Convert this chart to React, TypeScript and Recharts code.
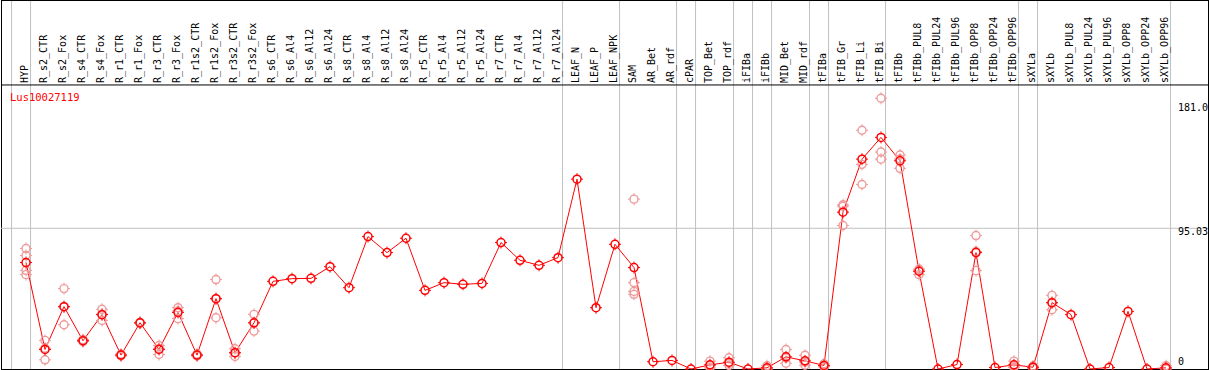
import React from 'react';
import { ComposedChart, Line, Scatter, XAxis, YAxis, ReferenceLine, ReferenceArea } from 'recharts';

const categories = [
  'HYP', 'R_s2_CTR', 'R_s2_Fox', 'R_s4_CTR', 'R_s4_Fox', 'R_r1_CTR', 'R_r1_Fox', 'R_r3_CTR', 'R_r3_Fox',
  'R_r1s2_CTR', 'R_r1s2_Fox', 'R_r3s2_CTR', 'R_r3s2_Fox', 'R_s6_CTR', 'R_s6_Al4', 'R_s6_Al12', 'R_s6_Al24',
  'R_s8_CTR', 'R_s8_Al4', 'R_s8_Al12', 'R_s8_Al24', 'R_r5_CTR', 'R_r5_Al4', 'R_r5_Al12', 'R_r5_Al24',
  'R_r7_CTR', 'R_r7_Al4', 'R_r7_Al12', 'R_r7_Al24', 'LEAF_N', 'LEAF_P', 'LEAF_NPK', 'SAM', 'AR_Bet', 'AR_rdf',
  'cPAR', 'TOP_Bet', 'TOP_rdf', 'iFIBa', 'iFIBb', 'MID_Bet', 'MID_rdf', 'tFIBa', 'tFIB_Gr', 'tFIB_Li', 'tFIB_Bi',
  'tFIBb', 'tFIBb_PUL8', 'tFIBb_PUL24', 'tFIBb_PUL96', 'tFIBb_OPP8', 'tFIBb_OPP24', 'tFIBb_OPP96', 'sXYLa',
  'sXYLb', 'sXYLb_PUL8', 'sXYLb_PUL24', 'sXYLb_PUL96', 'sXYLb_OPP8', 'sXYLb_OPP24', 'sXYLb_OPP96',
];

const meanValues = [
  71.9, 13.2, 42.1, 19.1, 36.7, 9.4, 31.2, 13.2, 38.2,
  9.4, 47.5, 11.0, 31.2, 59.2, 61.0, 61.2, 69.1,
  54.9, 89.4, 78.6, 88.3, 53.1, 58.3, 57.2, 57.8,
  85.4, 73.4, 70.0, 75.2, 128.2, 41.4, 84.2, 68.5, 4.9, 5.8,
  0, 2.8, 4.6, 0, 0.8, 8.2, 5.5, 2.4, 105.9, 141.7, 156.4,
  140.6, 66.0, 0, 3.0, 78.6, 1.0, 2.8, 1.2,
  44.8, 36.7, 0, 1.0, 38.9, 0, 0.8,
];

const N = null;
const rep1 = [
  81.4, 19.3, 54.3, 19.8, 40.3, 10.0, 31.5, 15.9, 41.4,
  10.0, 60.4, 13.7, 36.9, N, N, N, N,
  N, N, N, N, N, N, N, N,
  N, N, N, N, N, N, N, 114.7, N, N,
  N, 5.3, 7.6, N, 2.2, 13.2, 9.3, 3.5, 109.9, 161.2, 182.8,
  144.5, 63.7, N, N, 90.1, N, 5.3, 2.0,
  49.7, N, N, N, N, N, 2.2,
];
const rep2 = [
  76.6, 6.2, 29.9, 18.5, 32.8, 8.8, 30.9, 9.8, 34.0,
  8.8, 34.6, 8.5, 25.6, N, N, N, N,
  N, N, N, N, N, N, N, N,
  N, N, N, N, N, N, N, 58.3, N, N,
  N, 0.8, 2.4, N, 0.0, 3.9, 2.6, 1.5, 96.9, 138.2, 146.5,
  135.5, 67.5, N, N, 66.4, N, 1.0, 0.5,
  40.0, N, N, N, N, N, 0.0,
];
const rep3 = [
  66.6, 14.0, 42.0, 19.0, 37.0, 9.4, 31.2, 13.9, 39.2,
  9.4, 47.5, 10.8, 31.1, N, N, N, N,
  N, N, N, N, N, N, N, N,
  N, N, N, N, N, N, N, 52.4, N, N,
  N, 2.3, 3.8, N, 0.2, 7.5, 4.6, 2.2, 110.9, 124.6, 141.7,
  141.8, 66.8, N, N, 79.3, N, 2.1, 1.1,
  44.7, N, N, N, N, N, 0.2,
];
const rep4 = [
  63.7, N, N, N, N, N, N, N, N,
  N, N, N, N, N, N, N, N,
  N, N, N, N, N, N, N, N,
  N, N, N, N, N, N, N, 50.4, N, N,
  N, N, N, N, N, N, N, N, N, N, N,
  N, N, N, N, N, N, N, N,
  N, N, N, N, N, N, N,
];

const yTicks = [0, 95.03, 181.0];
const yTickLabels = ['0', '95.03', '181.0'];
const groupEnds = [-1, 0, 28, 31, 34, 35, 37, 38, 39, 41, 42, 45, 52, 53, 60];
const geneName = 'Lus10027119';

const X_MIN = -1.3158;
const X_MAX = 62.2105;
const Y_MAX = 248.5;

const meanData = categories.map((c, i) => ({ x: i, y: meanValues[i] }));
const repData: { x: number; y: number }[] = [];
[rep1, rep2, rep3, rep4].forEach((arr) => {
  arr.forEach((v, i) => {
    if (v !== null) repData.push({ x: i, y: v as number });
  });
});

const FONT = '"DejaVu Sans Mono", monospace';

const Marker = ({ cx, cy, color, w }: { cx: number; cy: number; color: string; w: number }) => {
  if (cx == null || cy == null) return null;
  return (
    <g>
      <circle cx={cx} cy={cy} r={4} fill="none" stroke={color} strokeWidth={w} />
      <line x1={cx} y1={cy - 6} x2={cx} y2={cy - 4} stroke={color} strokeWidth={1} />
      <line x1={cx} y1={cy + 4} x2={cx} y2={cy + 6} stroke={color} strokeWidth={1} />
      <line x1={cx - 6} y1={cy} x2={cx - 4} y2={cy} stroke={color} strokeWidth={1} />
      <line x1={cx + 4} y1={cy} x2={cx + 6} y2={cy} stroke={color} strokeWidth={1} />
    </g>
  );
};

const XTick = (props: any) => {
  const { x, payload } = props;
  const label = categories[payload.value];
  if (label === undefined) return null;
  const bx = x + 2;
  const by = 83;
  return (
    <text x={bx} y={by} transform={`rotate(-90 ${bx} ${by})`} fontFamily={FONT} fontSize={10} fill="#000">
      {label}
    </text>
  );
};

const YTick = (props: any) => {
  const { y, payload } = props;
  const idx = yTicks.indexOf(payload.value);
  const offsets = [-3.6, 7, 10.3];
  return (
    <text x={1178} y={y + (offsets[idx] ?? 0)} fontFamily={FONT} fontSize={10} fill="#000">
      {yTickLabels[idx] ?? String(payload.value)}
    </text>
  );
};

const GeneLabel = (props: any) => {
  const vb = props.viewBox || {};
  return (
    <text x={(vb.x ?? 1) + 9} y={(vb.y ?? 85) + 16} fontFamily={FONT} fontSize={10.5} fill="#ff0000">
      {geneName}
    </text>
  );
};

export default function App() {
  return (
    <div style={{ position: 'absolute', left: 0, top: 0, width: 1209, height: 370, background: '#fff' }}>
      <ComposedChart width={1209} height={370} data={meanData} margin={{ top: 0, right: 0, bottom: 1, left: 1 }}>
        <XAxis
          xAxisId={0}
          dataKey="x"
          type="number"
          orientation="top"
          height={1}
          domain={[X_MIN, X_MAX]}
          ticks={categories.map((c, i) => i)}
          interval={0}
          axisLine={false}
          tickLine={false}
          tick={<XTick />}
        />
        <YAxis
          yAxisId={0}
          type="number"
          orientation="right"
          width={1}
          domain={[0, Y_MAX]}
          ticks={yTicks}
          interval={0}
          axisLine={false}
          tickLine={false}
          tick={<YTick />}
        />
        {groupEnds.map((g, k) => (
          <ReferenceLine key={'g' + k} x={g + 0.24} stroke="#c0c0c0" strokeWidth={1} ifOverflow="visible" />
        ))}
        <ReferenceLine y={95.03} stroke="#c0c0c0" strokeWidth={1} ifOverflow="visible" />
        <ReferenceLine y={191.8} stroke="#000" strokeWidth={1} ifOverflow="visible" label={<GeneLabel />} />
        <ReferenceArea
          x1={X_MIN}
          x2={X_MAX}
          y1={0}
          y2={Y_MAX}
          ifOverflow="visible"
          shape={(p: any) => (
            <rect x={p.x + 0.5} y={p.y - 0.5} width={p.width} height={p.height + 1} fill="none" stroke="#000" strokeWidth={1} />
          )}
        />
        <Scatter
          data={repData}
          dataKey="y"
          isAnimationActive={false}
          shape={(p: any) => <Marker cx={p.cx} cy={p.cy} color="#ee9a9a" w={1.4} />}
        />
        <Line
          type="linear"
          dataKey="y"
          stroke="#ff0000"
          strokeWidth={1}
          isAnimationActive={false}
          dot={(p: any) => <Marker key={'d' + p.index} cx={p.cx} cy={p.cy} color="#ff0000" w={1.5} />}
          activeDot={false}
        />
      </ComposedChart>
    </div>
  );
}
